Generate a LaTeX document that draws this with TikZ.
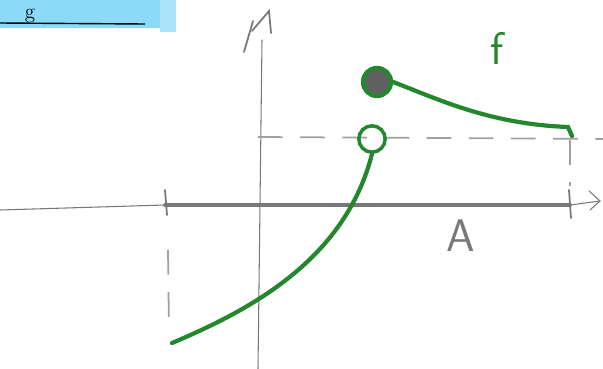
\documentclass[tikz,border=0pt]{standalone}
\usepackage{tikz}
\usetikzlibrary{arrows.meta}

\definecolor{penblue}{RGB}{100,205,245}
\definecolor{pengreen}{RGB}{35,135,45}
\definecolor{pengray}{RGB}{120,120,120}

\begin{document}
\begin{tikzpicture}[
  x=0.02cm,y=-0.02cm,
  axis/.style={pengray,line width=2.2pt,line cap=round},
  thinaxis/.style={pengray,line width=0.6pt,line cap=round},
  dashline/.style={pengray!70,line width=1pt,dash pattern=on 14pt off 10pt},
  graph/.style={pengreen,line width=2.4pt,line cap=round},
  label/.style={font=\sffamily\fontsize{26}{28}\selectfont}
]
  \useasboundingbox (0,0) rectangle (603,369);

  % highlighted heading
  \fill[penblue!75] (0,0) rectangle (168,28);
  \fill[penblue!55] (160,0) rectangle (176,32);
  \node[anchor=base,font=\fontsize{12}{14}\selectfont,inner sep=0pt] (head) at (30,18) {g};
  \draw[line width=0.8pt] (0,23) -- (145,24);

  % axes
  \coordinate (xl) at (0,210);
  \coordinate (xa) at (165,205);
  \coordinate (xb) at (570,205);
  \coordinate (xr) at (600,201);
  \coordinate (yb) at (258,369);
  \coordinate (yt) at (262,40);
  \draw[thinaxis] (xl) -- (xa);
  \draw[axis] (xa) -- (xb);
  \draw[thinaxis] (xb) -- (xr);
  \draw[thinaxis] (589,191) -- (xr) -- (590,210);
  \draw[axis,line width=1pt] (165,190) -- (167,215);
  \draw[axis,line width=1pt] (569,190) -- (571,218);
  \draw[thinaxis] (yb) -- (yt);
  \draw[thinaxis,line width=1pt] (244,52) -- (253,21);
  \draw[thinaxis,line width=1pt] (252,31) -- (269,11) -- (271,33);

  % dashed guides
  \coordinate (ha) at (258,137);
  \coordinate (hb) at (603,139);
  \draw[dashline] (ha) -- (hb);
  \draw[dashline] (168,250) -- (169,332);
  \draw[dashline] (570,140) -- (570,186);

  % graph of f
  \node[circle,draw=pengreen,line width=2pt,minimum size=15pt,inner sep=0pt] (hole) at (372,139) {};
  \node[circle,draw=pengreen,fill=pengray!80!black,line width=2.4pt,minimum size=16pt,inner sep=0pt] (dot) at (377,82) {};
  \coordinate (lo) at (172,343);
  \coordinate (hi) at (572,136);
  \draw[graph] (lo) .. controls (250,310) and (345,260) .. (hole.south);
  \draw[graph] (dot.east) .. controls (440,100) and (490,124) .. (568,127) -- (hi);

  \node[label,text=pengreen] (f) at (497,48) {f};
  \node[label,text=pengray] (A) at (461,236) {A};
\end{tikzpicture}
\end{document}
